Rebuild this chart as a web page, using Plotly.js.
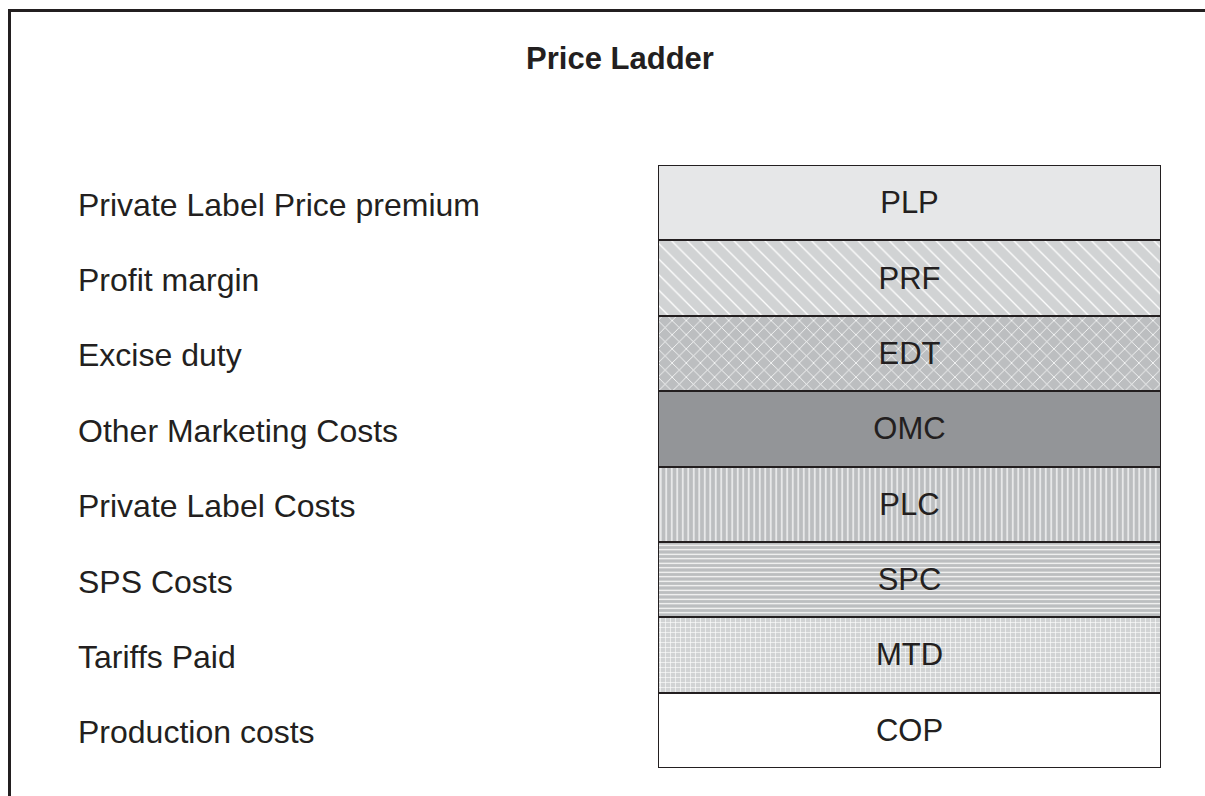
<!DOCTYPE html>
<html>
<head>
<meta charset="utf-8">
<script src="https://cdn.plot.ly/plotly-3.0.1.min.js"></script>
<style>html,body{margin:0;padding:0;background:#fff;}#chart{width:1205px;height:796px;}</style>
</head>
<body>
<div id="chart"></div>
<script>
// ---- data (top rung first) ----
var codes = ["PLP", "PRF", "EDT", "OMC", "PLC", "SPC", "MTD", "COP"];
var labels = ["Private Label Price premium", "Profit margin", "Excise duty", "Other Marketing Costs",
              "Private Label Costs", "SPS Costs", "Tariffs Paid", "Production costs"];
var values = [1, 1, 1, 1, 1, 1, 1, 1];

// ---- styles ----
var bgColors = ["#e6e7e8", "#d1d3d4", "#bcbec0", "#939598", "#bcbec0", "#bcbec0", "#d1d3d4", "#ffffff"];
var shapes = ["", "\\", "x", "", "|", "-", "+", ""];
var sizes = [8, 11, 10, 8, 5.5, 4.5, 5, 8];
var solid = [0.2, 0.12, 0.15, 0.2, 0.22, 0.25, 0.22, 0.2];

var W = 1205, H = 796;
var L = 658, R = 1161, T = 165, B = 768;
var ink = "#231f20";
var font = "'Liberation Sans', Arial, Helvetica, sans-serif";

function px2x(px) { return (px - L) / (R - L); }
function py2y(py) { return (B - py) / (B - T); }

var traces = codes.map(function (code, i) {
  var marker = {color: bgColors[i], line: {color: ink, width: 2}};
  if (shapes[i]) {
    marker.pattern = {shape: shapes[i], fgcolor: "#ffffff", bgcolor: bgColors[i],
                      size: sizes[i], solidity: solid[i], fillmode: "replace"};
  }
  return {
    type: "bar",
    orientation: "h",
    name: labels[i],
    y: [code],
    x: [values[i]],
    text: [code],
    textposition: "inside",
    insidetextanchor: "middle",
    textangle: 0,
    textfont: {family: font, size: 31, color: ink},
    constraintext: "none",
    width: 1,
    marker: marker,
    hoverinfo: "none",
    cliponaxis: false
  };
});

var annotations = labels.map(function (lab, i) {
  return {
    xref: "paper", yref: "y", x: px2x(76), y: codes[i], yshift: -2,
    xanchor: "left", yanchor: "middle", showarrow: false,
    text: lab, font: {family: font, size: 32, color: ink}
  };
});

var frame = [
  {type: "line", xref: "paper", yref: "paper", x0: px2x(9.5), x1: px2x(W + 5), y0: py2y(10.5), y1: py2y(10.5), line: {color: ink, width: 3}},
  {type: "line", xref: "paper", yref: "paper", x0: px2x(9.5), x1: px2x(9.5), y0: py2y(9), y1: py2y(H + 5), line: {color: ink, width: 3}}
];

var layout = {
  width: W, height: H,
  margin: {l: L, r: W - R, t: T, b: H - B, pad: 0},
  paper_bgcolor: "#ffffff", plot_bgcolor: "#ffffff",
  showlegend: false,
  barmode: "stack",
  bargap: 0,
  title: {text: "<b>Price Ladder</b>", font: {family: font, size: 31, color: ink},
          x: 620 / W, xanchor: "center", xref: "container", y: 1 - 58 / H, yanchor: "middle", yref: "container"},
  xaxis: {range: [0, 1], visible: false, fixedrange: true},
  yaxis: {type: "category", categoryorder: "array", categoryarray: codes, range: [codes.length - 0.5, -0.5],
          showticklabels: false, showgrid: false, zeroline: false, showline: false, ticks: "", fixedrange: true},
  annotations: annotations,
  shapes: frame
};

Plotly.newPlot("chart", traces, layout, {staticPlot: true, displayModeBar: false});
</script>
</body>
</html>
